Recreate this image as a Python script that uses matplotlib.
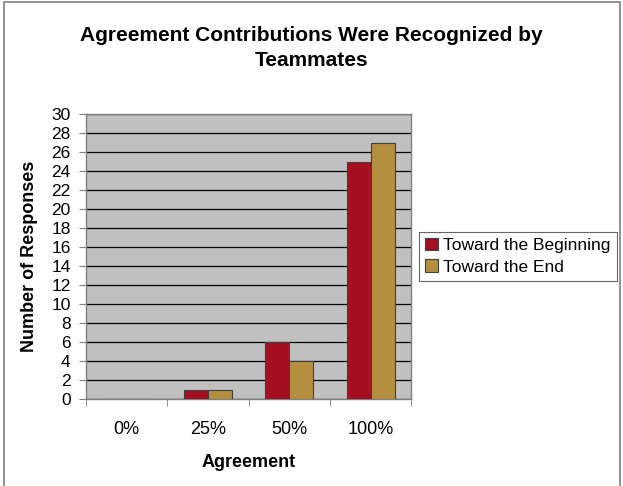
import numpy as np
import matplotlib.pyplot as plt
from matplotlib.patches import Rectangle

categories = ["0%", "25%", "50%", "100%"]
beginning = [0, 1, 6, 25]
end = [0, 1, 4, 27]
series_names = ["Toward the Beginning", "Toward the End"]

plt.rcParams['font.family'] = ['Liberation Sans', 'DejaVu Sans']

fig = plt.figure(figsize=(6.23, 4.86), dpi=100)
ax = fig.add_axes([0.138, 0.179, 0.522, 0.586])

# outer frame of the chart
fig.patches.append(Rectangle((4 / 623, -0.05), 616 / 623, 1 - 2 / 486 + 0.05,
                             transform=fig.transFigure, fill=False,
                             edgecolor="#808080", linewidth=1.2))

x = np.arange(len(categories))
w = 0.295
ax.set_facecolor("#c0c0c0")
ax.bar(x - w / 2, beginning, w, color="#a50f22", edgecolor="#404040", linewidth=0.8,
       label=series_names[0], zorder=3)
ax.bar(x + w / 2, end, w, color="#b58f40", edgecolor="#404040", linewidth=0.8,
       label=series_names[1], zorder=3)

ax.set_xlim(-0.5, len(categories) - 0.5)
ax.set_ylim(0, 30)
ax.set_yticks(range(0, 31, 2))
ax.yaxis.grid(True, color="black", linewidth=0.9, zorder=1)
ax.set_axisbelow(True)

ax.set_xticks(x)
ax.set_xticklabels(categories, fontsize=13)
ax.set_xticks(np.arange(-0.5, len(categories)), minor=True)
ax.tick_params(axis="x", which="major", length=0, pad=16)
ax.tick_params(axis="x", which="minor", length=5, color="#808080")
ax.tick_params(axis="y", labelsize=12.5, length=5, color="#808080", pad=6)

for s in ax.spines.values():
    s.set_color("#808080")
    s.set_linewidth(1.0)

ax.set_xlabel("Agreement", fontsize=13, fontweight="bold")
ax.xaxis.set_label_coords(0.5, -64 / 285)
ax.xaxis.label.set_va("center")
ax.set_ylabel("Number of Responses", fontsize=13, fontweight="bold")
ax.yaxis.set_label_coords(-56 / 325, 0.5)
ax.yaxis.label.set_va("center")

fig.text(0.5, 0.901, "Agreement Contributions Were Recognized by\nTeammates",
         ha="center", va="center", fontsize=15, fontweight="bold", linespacing=1.45)

leg = ax.legend(loc="center left", bbox_to_anchor=(419 / 623, 0.473),
                bbox_transform=fig.transFigure, fontsize=12.5, frameon=True,
                fancybox=False, edgecolor="#404040", handlelength=0.75,
                handleheight=0.75, handletextpad=0.3, borderpad=0.35,
                labelspacing=0.35, borderaxespad=0)
leg.get_frame().set_linewidth(0.8)

fig.savefig("out.png", dpi=100)
